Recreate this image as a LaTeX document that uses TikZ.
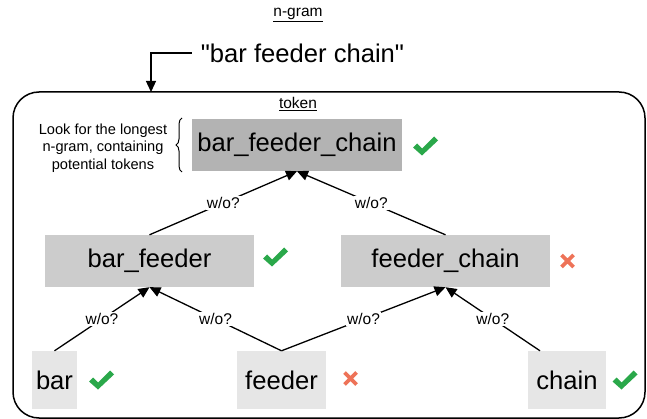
\documentclass[tikz,border=0pt]{standalone}
\usepackage{fontspec}
\setmainfont{Liberation Sans}
\newfontfamily\quotefont{Liberation Sans}[Ligatures=TeXOff]
\usetikzlibrary{arrows.meta,decorations.pathreplacing}
\definecolor{okgreen}{HTML}{2AA84A}
\definecolor{nored}{HTML}{EE7358}
\definecolor{g1}{HTML}{B3B3B3}
\definecolor{g2}{HTML}{CCCCCC}
\definecolor{g3}{HTML}{E6E6E6}
\begin{document}
\begin{tikzpicture}[x=1pt,y=-1pt,
  tokbox/.style={inner sep=0pt, font=\fontsize{25.6}{30}\selectfont},
  lbl/.style={fill=white, inner sep=1pt, font=\fontsize{15.5}{18}\selectfont},
  small/.style={inner sep=0pt, font=\fontsize{15.5}{18}\selectfont},
  conn/.style={line width=1.3pt, -{Triangle[length=11pt,width=10pt]}},
  okmark/.pic={\fill[okgreen] (-12.5,1.5) -- (-8.5,-2.5) -- (-3.5,2.5) -- (8.5,-9.5) -- (12.5,-5.5) -- (-3.5,9.5) -- cycle;},
  nomark/.pic={\draw[nored, line width=3.6pt] (-6,-6) -- (6,6) (-6,6) -- (6,-6);}
]
\useasboundingbox (0,0) rectangle (647,419);

\node[draw, line width=1.5pt, rounded corners=26pt, minimum width=632pt, minimum height=326pt, inner sep=0pt] (frame) at (329,255) {};

\node[small] (ngram) at (298,15) {\underline{n-gram}};
\node[tokbox, inner xsep=9pt, font=\quotefont\fontsize{25.6}{30}\selectfont] (phrase) at (302.5,53) {"bar feeder chain"};
\coordinate (entry) at (151,92);
\draw[conn] (phrase.west) -| (entry);
\node[small] (token) at (298,104) {\underline{token}};

\node[small, align=center, font=\fontsize{14.6}{17.5}\selectfont] (note) at (103,148) {Look for the longest\\n-gram, containing\\potential tokens};
\coordinate (braceA) at (182,172);
\coordinate (braceB) at (182,118);
\draw[line width=1pt, decorate, decoration={brace, amplitude=6pt}] (braceA) -- (braceB);

\node[tokbox, fill=g1, minimum width=210pt, minimum height=52pt] (bfc) at (297,145) {bar\_feeder\_chain};
\node[tokbox, fill=g2, minimum width=209pt, minimum height=52pt] (bf) at (149.5,261) {bar\_feeder};
\node[tokbox, fill=g2, minimum width=209pt, minimum height=52pt] (fc) at (445.5,261) {feeder\_chain};
\node[tokbox, fill=g3, minimum width=45pt, minimum height=58pt] (bar) at (54.5,380) {bar};
\node[tokbox, fill=g3, minimum width=89pt, minimum height=58pt] (feeder) at (281.5,380) {feeder};
\node[tokbox, fill=g3, minimum width=78pt, minimum height=58pt] (chain) at (567,380) {chain};

\draw[conn] (bf.north) -- (bfc.south) node[lbl, pos=0.5] {w/o?};
\draw[conn] (fc.north) -- (bfc.south) node[lbl, pos=0.5] {w/o?};
\draw[conn] (bar.north) -- (bf.south) node[lbl, pos=0.5] {w/o?};
\draw[conn] (feeder.north) -- (bf.south) node[lbl, pos=0.5] {w/o?};
\draw[conn] (feeder.north) -- (fc.south) node[lbl, pos=0.5] {w/o?};
\draw[conn] ([xshift=-27pt]chain.north) -- (fc.south) node[lbl, pos=0.5] {w/o?};

\pic at (425.5,146) {okmark};
\pic at (275.5,257) {okmark};
\pic at (101.5,380) {okmark};
\pic at (625,380) {okmark};
\pic at (567.5,261) {nomark};
\pic at (350.5,378.5) {nomark};
\end{tikzpicture}
\end{document}
